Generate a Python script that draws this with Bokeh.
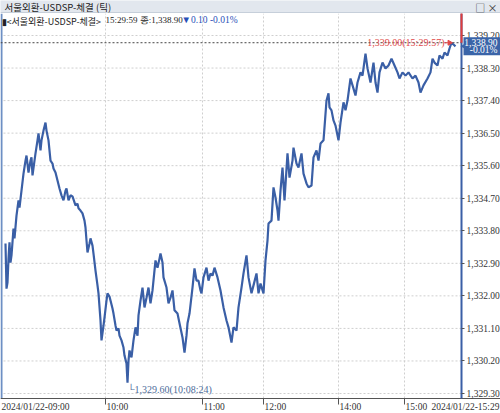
from bokeh.plotting import figure
from bokeh.models import (Label, LinearAxis, FixedTicker, NumeralTickFormatter, Range1d, Span)
from bokeh.layouts import column
from bokeh.embed import file_html
from bokeh.resources import INLINE

# ---------------- data ----------------
title_text = "서울외환-USDSP-체결 (틱)"
legend_name = "▮<서울외환-USDSP-체결>"
legend_quote = "15:29:59 종:1,338.90"
legend_change = "▼0.10 -0.01%"
last_price = 1338.90
last_change_pct = "-0.01%"
high_price = 1339.00
high_time = "15:29:57"
high_idx = 446
low_price = 1329.60
low_time = "10:08:24"
low_idx = 122

tick_idx = [
    0, 1, 2, 3, 4, 5, 6, 8, 9, 11,
    13, 14, 16, 18, 20, 21, 23, 25, 26, 27,
    29, 30, 32, 33, 35, 36, 38, 40, 41, 43,
    45, 47, 48, 50, 52, 54, 56, 58, 60, 61,
    63, 65, 67, 70, 72, 73, 75, 77, 79, 80,
    81, 82, 84, 85, 87, 88, 90, 92, 93, 95,
    96, 98, 99, 101, 102, 104, 105, 107, 108, 110,
    111, 113, 114, 116, 118, 119, 121, 122, 123, 124,
    126, 128, 130, 132, 133, 135, 137, 139, 141, 143,
    145, 147, 150, 152, 154, 155, 157, 158, 161, 163,
    165, 167, 169, 172, 174, 177, 179, 181, 182, 184,
    187, 189, 191, 193, 195, 196, 198, 201, 203, 205,
    207, 209, 212, 215, 218, 221, 223, 226, 228, 231,
    233, 236, 238, 241, 243, 246, 248, 251, 253, 255,
    258, 260, 262, 263, 266, 268, 270, 272, 273, 275,
    277, 279, 282, 284, 287, 288, 291, 293, 296, 298,
    301, 303, 306, 308, 311, 313, 315, 318, 319, 321,
    323, 324, 326, 328, 330, 333, 335, 338, 340, 342,
    345, 348, 350, 352, 355, 357, 360, 362, 365, 368,
    370, 372, 374, 377, 380, 383, 386, 389, 392, 394,
    397, 400, 403, 407, 410, 413, 415, 418, 422, 425,
    427, 429, 432, 434, 437, 439, 442, 444, 446, 448, 450,
]
price = [
    1333.45, 1332.20, 1332.37, 1333.03, 1333.48, 1332.92, 1333.12, 1333.86, 1333.59, 1334.22,
    1334.64, 1334.44, 1334.91, 1335.38, 1335.74, 1335.88, 1335.41, 1335.74, 1335.83, 1335.33,
    1335.74, 1335.94, 1336.30, 1336.49, 1336.02, 1336.30, 1336.57, 1336.79, 1336.57, 1336.30,
    1335.74, 1335.66, 1335.52, 1335.41, 1335.19, 1334.97, 1334.78, 1334.64, 1334.91, 1334.97,
    1334.64, 1334.78, 1334.75, 1334.50, 1334.55, 1334.42, 1334.36, 1334.28, 1334.08, 1333.89,
    1333.53, 1333.20, 1333.45, 1333.59, 1333.39, 1333.17, 1332.70, 1332.29, 1332.07, 1331.32,
    1330.77, 1331.18, 1331.40, 1331.87, 1332.07, 1331.98, 1331.87, 1331.65, 1331.51, 1331.18,
    1331.04, 1331.10, 1330.90, 1330.77, 1330.57, 1330.35, 1330.13, 1329.60, 1330.21, 1330.49,
    1330.30, 1330.77, 1331.13, 1330.90, 1331.46, 1331.87, 1332.23, 1331.68, 1331.95, 1332.23,
    1331.79, 1332.15, 1332.98, 1332.78, 1333.03, 1333.17, 1332.92, 1332.51, 1332.23, 1331.79,
    1331.95, 1332.15, 1331.60, 1331.51, 1331.24, 1330.85, 1330.43, 1330.90, 1331.24, 1331.51,
    1332.23, 1332.76, 1332.42, 1332.42, 1332.15, 1332.07, 1332.51, 1332.78, 1332.42, 1332.62,
    1332.56, 1332.78, 1332.51, 1332.15, 1331.68, 1331.32, 1331.13, 1330.71, 1331.13, 1331.04,
    1331.68, 1332.23, 1332.62, 1333.12, 1332.51, 1332.07, 1332.29, 1332.62, 1332.07, 1332.34,
    1332.07, 1332.98, 1333.53, 1334.00, 1334.08, 1335.00, 1334.72, 1334.36, 1334.08, 1334.91,
    1335.55, 1334.64, 1335.94, 1335.27, 1335.74, 1336.10, 1335.66, 1335.55, 1335.94, 1335.38,
    1335.11, 1335.00, 1335.05, 1335.83, 1336.02, 1335.74, 1336.21, 1336.30, 1336.66, 1337.40,
    1337.60, 1337.21, 1337.13, 1336.85, 1336.71, 1336.30, 1336.79, 1337.35, 1337.13, 1337.40,
    1338.01, 1337.73, 1337.54, 1337.90, 1338.18, 1338.09, 1338.70, 1338.29, 1337.90, 1338.45,
    1337.90, 1337.62, 1338.18, 1338.45, 1338.29, 1338.37, 1338.56, 1338.37, 1338.18, 1338.01,
    1338.18, 1338.09, 1338.18, 1338.01, 1338.09, 1337.90, 1337.62, 1337.82, 1338.01, 1338.18,
    1338.56, 1338.45, 1338.37, 1338.65, 1338.56, 1338.73, 1338.65, 1338.84, 1339.00, 1338.95, 1338.90,
]

y_ticks = [1329.30, 1330.20, 1331.10, 1332.00, 1332.90, 1333.80,
           1334.70, 1335.60, 1336.50, 1337.40, 1338.30, 1339.20]
hour_idx = [100, 197, 258, 333, 399]
hour_labels = ["10:00", "11:00", "12:00", "14:00", "15:00"]
start_label = "2024/01/22-09:00"
end_label = "2024/01/22-15:29"

# ---------------- layout / style ----------------
W = 500
HH = 13
H = 400
KR = "Noto Sans CJK KR"
NUM = "Liberation Sans Narrow"
BLUE = "#3a5fa6"
RED = "#e04848"
X_LEFT, X_RIGHT = -5, 495          # whole drawing strip
X_AXIS = 456                       # position of the price axis
Y_TOP, Y_BOTTOM = 1339.808, 1328.747
Y_AXIS = 1329.162                  # where the time axis sits
PX = (Y_TOP - Y_BOTTOM) / H        # price per pixel

# header bar
h = figure(width=W, height=HH, x_range=Range1d(0, W), y_range=Range1d(0, HH),
           output_backend="svg", toolbar_location=None, min_border=0,
           x_axis_location=None, y_axis_location=None,
           background_fill_color="#e2e7ee", border_fill_color="#e2e7ee")
h.grid.visible = False
h.outline_line_color = None
h.add_layout(Label(x=4, y=HH / 2, text=title_text, text_font=KR, text_font_size="9.5px",
                   text_color="#222222", text_baseline="middle", text_align="left"))
h.add_layout(Label(x=W - 3, y=HH / 2, text="□ ×", text_font=KR, text_font_size="10px",
                   text_color="#333333", text_baseline="middle", text_align="right"))
h.add_layout(Span(location=0.5, dimension="width", line_color="#aab6c6", line_width=1))

# main chart: frame spans the whole area; axes are pinned with fixed_location
p = figure(width=W, height=H, x_range=Range1d(X_LEFT, X_RIGHT), y_range=Range1d(Y_BOTTOM, Y_TOP),
           output_backend="svg", toolbar_location=None, title=None,
           x_axis_location=None, y_axis_location=None,
           min_border_left=0, min_border_right=0, min_border_top=0, min_border_bottom=0,
           background_fill_color="white", border_fill_color="white")
p.outline_line_color = None
p.grid.visible = False

# dotted grid
p.segment(x0=X_LEFT + 3, x1=X_AXIS, y0=y_ticks, y1=y_ticks,
          line_color="#cfcfcf", line_dash="2 2", line_width=1)
p.segment(x0=hour_idx, x1=hour_idx, y0=Y_AXIS, y1=Y_TOP,
          line_color="#cfcfcf", line_dash="2 2", line_width=1)

# price axis (right)
ya = LinearAxis(fixed_location=X_AXIS, bounds=(Y_AXIS, Y_TOP))
ya.ticker = FixedTicker(ticks=y_ticks)
ya.formatter = NumeralTickFormatter(format="0,0.00")
ya.axis_line_color = BLUE
ya.axis_line_width = 2
ya.major_tick_in = 0
ya.major_tick_out = 3
ya.major_tick_line_color = "#555555"
ya.minor_tick_line_color = None
ya.major_label_standoff = 2
ya.major_label_text_font = NUM
ya.major_label_text_font_size = "9.5px"
ya.major_label_text_color = "#333333"
p.add_layout(ya, "right")

# time axis (bottom) - tick marks; labels are set left-aligned beside them
xa = LinearAxis(fixed_location=Y_AXIS, bounds=(X_LEFT, X_RIGHT))
xa.ticker = FixedTicker(ticks=hour_idx)
xa.major_label_overrides = {hi: "" for hi in hour_idx}
xa.axis_line_color = "#555555"
xa.axis_line_width = 1
xa.major_tick_in = 0
xa.major_tick_out = 6
xa.major_tick_line_color = "#555555"
xa.minor_tick_line_color = None
p.add_layout(xa, "below")

p.add_layout(Label(x=X_LEFT, y=Y_AXIS, x_offset=1, y_offset=-4, text=start_label, text_font=NUM,
                   text_font_size="9.5px", text_color="#333333",
                   text_align="left", text_baseline="top"))
for hi, hl in zip(hour_idx, hour_labels):
    p.add_layout(Label(x=hi, y=Y_AXIS, x_offset=1, y_offset=-4, text=hl, text_font=NUM,
                       text_font_size="9.5px", text_color="#333333",
                       text_align="left", text_baseline="top"))
p.add_layout(Label(x=X_RIGHT, y=Y_AXIS, x_offset=-1, y_offset=-4, text=end_label,
                   text_font=NUM, text_font_size="9.5px", text_color="#333333",
                   text_align="right", text_baseline="top"))

# left border
p.segment(x0=[X_LEFT + 1], x1=[X_LEFT + 1], y0=[Y_AXIS], y1=[Y_TOP],
          line_color="#6d8fc4", line_width=2)

# price line
p.line(tick_idx, price, line_color=BLUE, line_width=2.2)

# high-price reference
p.segment(x0=[X_LEFT], x1=[X_AXIS], y0=[high_price], y1=[high_price],
          line_color="#444444", line_dash="2 2", line_width=1)
p.add_layout(Label(x=high_idx - 7, y=high_price, text=f"{high_price:,.2f}({high_time})",
                   text_font=NUM, text_font_size="10px", text_color=RED,
                   text_align="right", text_baseline="middle"))
p.segment(x0=[high_idx - 7], x1=[high_idx - 1], y0=[high_price], y1=[high_price],
          line_color=RED, line_width=1)
p.scatter(x=[high_idx - 2], y=[high_price], marker="triangle", angle=-1.5708, size=5,
          fill_color=RED, line_color=RED)
p.segment(x0=[X_AXIS], x1=[X_AXIS], y0=[high_price], y1=[Y_TOP],
          line_color="#e03c3c", line_width=2, level="overlay")

# low-price marker
p.add_layout(Label(x=low_idx, y=low_price, y_offset=-1, text=f"└{low_price:,.2f}({low_time})",
                   text_font=NUM, text_font_size="10px", text_color="#4d6c9a",
                   text_align="left", text_baseline="top"))

# legend line
p.add_layout(Label(x=X_LEFT, y=Y_TOP, x_offset=1, y_offset=-1, text=legend_name, text_font=KR,
                   text_font_size="9px", text_color="#222222",
                   text_align="left", text_baseline="top"))
p.add_layout(Label(x=100, y=Y_TOP, y_offset=-1, text=legend_quote, text_font=NUM,
                   text_font_size="9px", text_color="#222222",
                   text_align="left", text_baseline="top"))
p.add_layout(Label(x=176, y=Y_TOP, y_offset=-1, text=legend_change, text_font=NUM,
                   text_font_size="9.5px", text_color="#2850b8",
                   text_align="left", text_baseline="top"))

# last price box on the axis
p.quad(left=[X_AXIS + 2], right=[X_RIGHT], top=[last_price + 9 * PX],
       bottom=[last_price - 9 * PX], fill_color="#3a64a8", line_color=None, level="overlay")
p.scatter(x=[X_AXIS + 3], y=[last_price], marker="triangle", angle=1.5708, size=7,
          fill_color="#3a64a8", line_color=None, level="overlay")
p.add_layout(Label(x=X_RIGHT, y=last_price, x_offset=-3, y_offset=4, text=f"{last_price:,.2f}",
                   text_font=NUM, text_font_size="9.5px", text_color="white",
                   text_align="right", text_baseline="middle", level="overlay"))
p.add_layout(Label(x=X_RIGHT, y=last_price, x_offset=-3, y_offset=-4, text=last_change_pct,
                   text_font=NUM, text_font_size="9.5px", text_color="white",
                   text_align="right", text_baseline="middle", level="overlay"))

layout = column(h, p)
open("out.html", "w").write(file_html(layout, INLINE))
